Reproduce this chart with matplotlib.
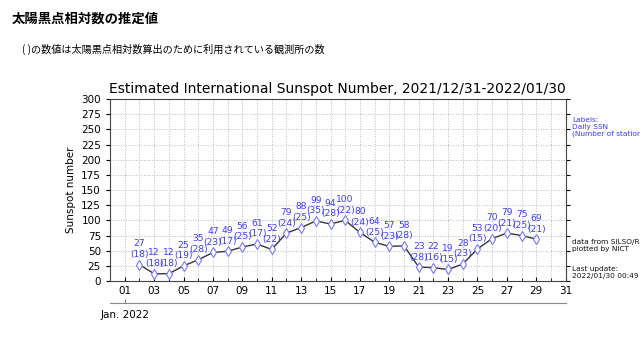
import matplotlib

matplotlib.use("Agg")
import matplotlib.pyplot as plt
from matplotlib.ticker import MultipleLocator, FixedLocator

plt.rcParams["font.family"] = ["DejaVu Sans"]

# Daily estimated sunspot number (Jan. 2022) and number of stations used
days = list(range(2, 30))
ssn = [27, 12, 12, 25, 35, 47, 49, 56, 61, 52, 79, 88, 99, 94,
       100, 80, 64, 57, 58, 23, 22, 19, 28, 53, 70, 79, 75, 69]
stations = [18, 18, 18, 19, 28, 23, 17, 25, 17, 22, 24, 25, 35, 28,
            22, 24, 25, 23, 28, 28, 16, 15, 23, 15, 20, 21, 25, 21]
major_days = list(range(1, 32, 2))
major_labels = [f"{d:02d}" for d in major_days]

title = "Estimated International Sunspot Number, 2021/12/31-2022/01/30"
label_blue = "#3a3aff"

fig = plt.figure(figsize=(6.4, 3.44), dpi=100)
ax = fig.add_axes([0.1719, 0.1831, 0.712, 0.5291])

ax.plot(days, ssn, color="#333333", linewidth=1.0, zorder=3)
ax.plot(days, ssn, linestyle="none", marker="d", markersize=5,
        markerfacecolor="white", markeredgecolor="#7777ff",
        markeredgewidth=0.8, zorder=4)

for d, v, n in zip(days, ssn, stations):
    ax.annotate(f"{v}\n({n})", (d, v), xytext=(0, 4),
                textcoords="offset points", ha="center", va="bottom",
                fontsize=6.6, color=label_blue, linespacing=1.25)

ax.set_xlim(0, 31)
ax.set_ylim(0, 300)
ax.xaxis.set_major_locator(FixedLocator(major_days))
ax.set_xticklabels(major_labels)
ax.xaxis.set_minor_locator(MultipleLocator(1))
ax.yaxis.set_major_locator(MultipleLocator(25))
ax.grid(which="both", axis="x", color="#bbbbbb", linestyle=":", linewidth=0.7)
ax.grid(which="major", axis="y", color="#bbbbbb", linestyle=":", linewidth=0.7)
ax.tick_params(axis="both", which="major", labelsize=7.5, length=3)
ax.tick_params(axis="x", which="both", direction="in", top=True)
ax.tick_params(axis="y", which="both", right=True)
ax.tick_params(axis="x", which="minor", length=2)
for s in ax.spines.values():
    s.set_color("#444444")
    s.set_linewidth(0.8)

ax.set_ylabel("Sunspot number", fontsize=7.5)
ax.set_title(title, fontsize=10.0, pad=4)

# month axis below the day ticks
ax_m = ax.twiny()
ax_m.set_xlim(ax.get_xlim())
ax_m.xaxis.set_ticks_position("bottom")
ax_m.xaxis.set_label_position("bottom")
ax_m.spines["bottom"].set_position(("outward", 16))
ax_m.spines["bottom"].set_color("#888888")
for side in ["top", "left", "right"]:
    ax_m.spines[side].set_visible(False)
ax_m.set_xticks([1])
ax_m.set_xticklabels(["Jan. 2022"])
ax_m.tick_params(axis="x", direction="in", length=3, labelsize=7.5,
                 pad=5, color="#888888")

# headings (Japanese)
jp = ["Noto Sans CJK JP", "DejaVu Sans"]
fig.text(0.019, 0.947, "太陽黒点相対数の推定値", family=jp, fontsize=9.6,
         fontweight="bold", va="center")
fig.text(0.034, 0.857, "( )の数値は太陽黒点相対数算出のために利用されている観測所の数",
         family=jp, fontsize=7.3, va="center")

# notes on the right
fig.text(0.894, 0.66, "Labels:\nDaily SSN\n(Number of stations)",
         fontsize=5.3, color=label_blue, va="top", linespacing=1.2)
fig.text(0.894, 0.305, "data from SILSO/ROB\nplotted by NICT",
         fontsize=5.3, color="#111111", va="top", linespacing=1.2)
fig.text(0.894, 0.228, "Last update:\n2022/01/30 00:49 UT",
         fontsize=5.3, color="#111111", va="top", linespacing=1.2)

fig.savefig("out.png", dpi=100)
